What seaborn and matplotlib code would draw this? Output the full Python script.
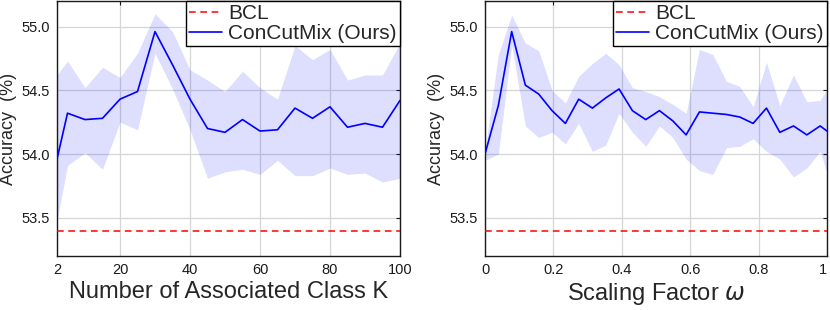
import matplotlib
matplotlib.use("Agg")
import matplotlib.pyplot as plt
import seaborn as sns

# --- values ------------------------------------------------------------------
BCL_ACC = 53.4

K_VALUES = [2, 5, 10, 15, 20, 25, 30, 35, 40, 45, 50, 55, 60, 65, 70, 75, 80,
            85, 90, 95, 100]
K_MEAN = [53.96, 54.32, 54.27, 54.28, 54.43, 54.49, 54.96, 54.70, 54.43, 54.20,
          54.17, 54.27, 54.18, 54.19, 54.36, 54.28, 54.37, 54.21, 54.24, 54.21,
          54.42]
K_UPPER = [54.62, 54.73, 54.52, 54.68, 54.60, 54.79, 55.10, 54.96, 54.66, 54.58,
           54.49, 54.65, 54.52, 54.43, 54.85, 54.74, 54.82, 54.58, 54.62, 54.62,
           54.87]
K_LOWER = [53.48, 53.91, 54.01, 53.88, 54.25, 54.19, 54.79, 54.51, 54.19, 53.81,
           53.86, 53.88, 53.84, 53.95, 53.83, 53.83, 53.89, 53.84, 53.85, 53.78,
           53.81]

W_VALUES = [0.0, 0.039, 0.078, 0.118, 0.157, 0.196, 0.235, 0.274, 0.314, 0.353,
            0.392, 0.431, 0.470, 0.510, 0.549, 0.588, 0.627, 0.666, 0.706, 0.745,
            0.784, 0.823, 0.862, 0.902, 0.941, 0.980, 1.0]
W_MEAN = [54.00, 54.38, 54.96, 54.54, 54.47, 54.34, 54.24, 54.43, 54.36, 54.44,
          54.51, 54.34, 54.27, 54.34, 54.26, 54.15, 54.33, 54.32, 54.31, 54.29,
          54.24, 54.36, 54.17, 54.22, 54.15, 54.22, 54.18]
W_UPPER = [54.02, 54.78, 55.09, 54.87, 54.81, 54.50, 54.40, 54.61, 54.71, 54.79,
           54.70, 54.52, 54.49, 54.45, 54.39, 54.32, 54.82, 54.78, 54.57, 54.53,
           54.37, 54.72, 54.38, 54.62, 54.41, 54.42, 54.51]
W_LOWER = [53.95, 54.00, 54.85, 54.22, 54.13, 54.17, 54.08, 54.24, 54.02, 54.07,
           54.32, 54.17, 54.06, 54.22, 54.13, 53.96, 53.87, 53.84, 54.05, 54.06,
           54.12, 54.02, 53.96, 53.82, 53.89, 54.02, 53.85]

K_TICKS = [2, 20, 40, 60, 80, 100]
W_TICKS = [0, 0.2, 0.4, 0.6, 0.8, 1]
W_TICKLABELS = ["0", "0.2", "0.4", "0.6", "0.8", "1"]
Y_TICKS = [53.5, 54.0, 54.5, 55.0]

# --- style -------------------------------------------------------------------
sns.set_theme(style="whitegrid")
plt.rcParams.update({
    "font.family": ["Liberation Sans", "DejaVu Sans"],
    "mathtext.fontset": "dejavusans",
    "axes.edgecolor": "#1a1a1a",
    "axes.linewidth": 1.0,
    "grid.color": "#d6d6d6",
    "grid.linewidth": 0.9,
    "xtick.direction": "in",
    "ytick.direction": "in",
    "xtick.top": True,
    "ytick.right": True,
    "xtick.major.size": 3,
    "ytick.major.size": 3,
    "xtick.major.width": 0.8,
    "ytick.major.width": 0.8,
    "xtick.color": "#1a1a1a",
    "ytick.color": "#1a1a1a",
})

fig = plt.figure(figsize=(8.3, 3.1), dpi=100)
ax_k = fig.add_axes([57 / 830, 54 / 310, 343 / 830, 255 / 310])
ax_w = fig.add_axes([485 / 830, 54 / 310, 342 / 830, 255 / 310])


def panel(ax, x, mean, lower, upper, xlim, xticks, xticklabels, xlabel):
    ax.axhline(BCL_ACC, color="red", lw=1.1, ls=(0, (4.4, 3.0)), label="BCL",
               zorder=3)
    ax.fill_between(x, lower, upper, color="blue", alpha=0.13, lw=0, zorder=1)
    sns.lineplot(x=x, y=mean, color="blue", lw=1.2, label="ConCutMix (Ours)",
                 ax=ax, zorder=4)
    ax.set_xlim(*xlim)
    ax.set_ylim(53.2, 55.2)
    ax.set_xticks(xticks)
    ax.set_xticklabels(xticklabels)
    ax.set_yticks(Y_TICKS)
    ax.set_yticklabels([f"{v:.1f}" for v in Y_TICKS])
    ax.tick_params(labelsize=10.5, pad=5)
    ax.set_xlabel(xlabel, fontsize=17, labelpad=3)
    ax.set_ylabel("Accuracy  (%)", fontsize=13, labelpad=3)
    for s in ax.spines.values():
        s.set_visible(True)
    leg = ax.legend(loc="upper right", fontsize=15, frameon=True,
                    fancybox=False, framealpha=1, edgecolor="black",
                    borderaxespad=0, borderpad=0.15, handlelength=1.6,
                    handletextpad=0.3, labelspacing=0.05)
    leg.get_frame().set_linewidth(1.0)


panel(ax_k, K_VALUES, K_MEAN, K_LOWER, K_UPPER, (2, 100), K_TICKS,
      [str(t) for t in K_TICKS], "Number of Associated Class K")
panel(ax_w, W_VALUES, W_MEAN, W_LOWER, W_UPPER, (0, 1), W_TICKS,
      W_TICKLABELS, r"Scaling Factor $\omega$")
# the reference keeps the last tick label inside the canvas edge
ax_w.get_xticklabels()[-1].set_horizontalalignment("right")

fig.savefig("out.png", dpi=100, facecolor="white")
